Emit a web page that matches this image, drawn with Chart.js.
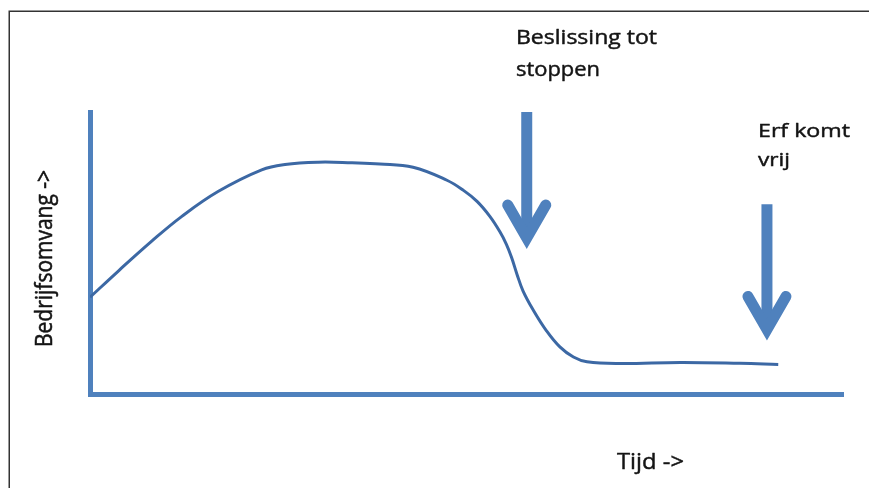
<!DOCTYPE html>
<html>
<head>
<meta charset="utf-8">
<script src="https://cdn.jsdelivr.net/npm/chart.js@4.4.1/dist/chart.umd.min.js"></script>
<style>
  html, body { margin: 0; padding: 0; background: #ffffff; }
  #wrap { width: 869px; height: 488px; position: relative; }
</style>
</head>
<body>
<div id="wrap"><canvas id="c" width="869" height="488"></canvas></div>
<script>
// Time (x) and business size (y), in units 0..100
const timeValues = [0, 3.8, 8.2, 12.2, 17.0, 22.8, 25.9, 30.3, 34.8, 38.5, 42.9, 47.4, 49.6, 51.4, 53.1, 54.4, 55.3, 56.0, 56.7, 57.5, 58.9, 60.6, 62.4, 64.2, 66.0, 70.4, 78.4, 86.3, 91.4];
const sizeValues = [34.3, 43.7, 54.2, 63.0, 71.8, 79.5, 81.4, 82.2, 82.0, 81.6, 80.4, 75.8, 72.2, 68.3, 63.0, 57.7, 53.1, 48.3, 42.5, 36.6, 29.6, 22.5, 16.7, 13.1, 11.4, 10.8, 11.2, 10.9, 10.5];

// Annotation arrows: x position, top and tip (data units)
const arrowX = [58.0, 89.9];
const arrowTop = [100, 67.3];
const arrowTip = [51.4, 19.0];
const arrowLabels = [["Beslissing tot", "stoppen"], ["Erf komt", "vrij"]];

const xTitle = "Tijd ->";
const yTitle = "Bedrijfsomvang ->";

const AXIS_BLUE = '#4F81BD';
const CURVE_BLUE = '#3C68A4';
const FAMILY = '"Open Sans", Lato, sans-serif';

const points = timeValues.map((t, i) => ({ x: t, y: sizeValues[i] }));

// draw text with a given font size, stretched along its direction to a target width
function fitText(ctx, text, x, y, size, width, rotate, crossScale) {
  ctx.save();
  ctx.font = size + 'px ' + FAMILY;
  const w = ctx.measureText(text).width;
  ctx.translate(x, y);
  if (rotate) ctx.rotate(-Math.PI / 2);
  ctx.scale(width / w, crossScale || 1);
  ctx.fillText(text, 0, 0);
  ctx.lineWidth = 0.45;
  ctx.strokeText(text, 0, 0);
  ctx.restore();
}

const decorPlugin = {
  id: 'decor',
  afterDraw(chart) {
    const ctx = chart.ctx;
    const xs = chart.scales.x, ys = chart.scales.y;
    ctx.save();
    // frame (top and left only)
    ctx.strokeStyle = '#333333';
    ctx.lineWidth = 1.5;
    ctx.beginPath();
    ctx.moveTo(9.25, 488);
    ctx.lineTo(9.25, 11.25);
    ctx.lineTo(869, 11.25);
    ctx.stroke();

    // arrows
    ctx.strokeStyle = AXIS_BLUE;
    ctx.lineWidth = 11;
    for (let i = 0; i < arrowX.length; i++) {
      const px = xs.getPixelForValue(arrowX[i]);
      const top = ys.getPixelForValue(arrowTop[i]);
      const tip = ys.getPixelForValue(arrowTip[i]);
      const vertex = tip - 11;
      ctx.lineCap = 'butt';
      ctx.beginPath();
      ctx.moveTo(px, top);
      ctx.lineTo(px, vertex - 4);
      ctx.stroke();
      ctx.lineCap = 'round';
      ctx.lineJoin = 'miter';
      ctx.miterLimit = 10;
      ctx.beginPath();
      ctx.moveTo(px - 19, vertex - 33);
      ctx.lineTo(px, vertex);
      ctx.lineTo(px + 19, vertex - 33);
      ctx.stroke();
    }

    // texts
    ctx.fillStyle = '#141414';
    ctx.strokeStyle = '#141414';
    ctx.lineCap = 'butt';
    ctx.lineJoin = 'round';
    ctx.textAlign = 'left';
    ctx.textBaseline = 'alphabetic';
    fitText(ctx, arrowLabels[0][0], 516, 44, 19.5, 141);
    fitText(ctx, arrowLabels[0][1], 516, 76, 19.5, 84);
    fitText(ctx, arrowLabels[1][0], 758, 137, 18.5, 92);
    fitText(ctx, arrowLabels[1][1], 758, 166, 18.5, 32);
    fitText(ctx, xTitle, 617, 469, 22, 67);
    fitText(ctx, yTitle, 52, 347, 19.5, 177, true, 1.2);

    ctx.restore();
  }
};

new Chart(document.getElementById('c'), {
  type: 'line',
  data: {
    datasets: [{
      data: points,
      borderColor: CURVE_BLUE,
      borderWidth: 3,
      pointRadius: 0,
      tension: 0.4,
      fill: false
    }]
  },
  options: {
    responsive: false,
    animation: false,
    devicePixelRatio: 1,
    layout: { padding: { left: 90, right: 26, top: 112, bottom: 94 } },
    plugins: { legend: { display: false }, tooltip: { enabled: false } },
    scales: {
      x: {
        type: 'linear', min: 0, max: 100,
        grid: { display: false, drawTicks: false },
        ticks: { display: false },
        border: { display: true, color: AXIS_BLUE, width: 5 }
      },
      y: {
        type: 'linear', min: 0, max: 100,
        grid: { display: false, drawTicks: false },
        ticks: { display: false },
        border: { display: true, color: AXIS_BLUE, width: 5 }
      }
    }
  },
  plugins: [decorPlugin]
});
</script>
</body>
</html>
